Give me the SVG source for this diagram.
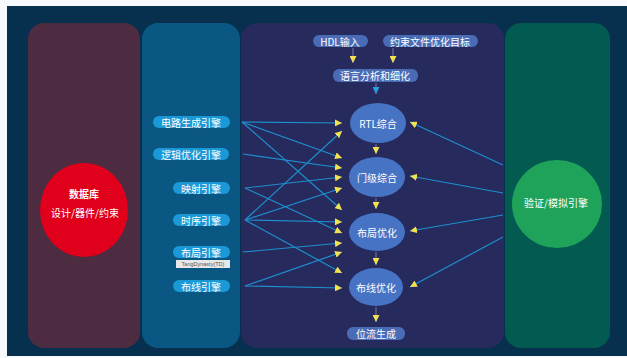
<svg xmlns="http://www.w3.org/2000/svg" width="627" height="358" viewBox="0 0 627 358">
<style>
.t{font-family:"Noto Sans CJK SC","Noto Sans",sans-serif;fill:#ffffff;text-anchor:middle;dominant-baseline:central;font-size:10px}
.eng{fill:#1b98d6}
.top{fill:#4a6cb6}
.ell{fill:#4773c4}
.ln{stroke:#1f8fcf;stroke-width:1.2;fill:none}
.dn{stroke:#8a8fb0;stroke-width:0.8;fill:none}
</style>
<defs>
<marker id="ay" viewBox="0 0 10 10" refX="10" refY="5" markerWidth="7" markerHeight="7" markerUnits="userSpaceOnUse" orient="auto"><path d="M0,0 L10,5 L0,10 z" fill="#f2e250"/></marker>
<marker id="ab" viewBox="0 0 10 10" refX="10" refY="5" markerWidth="7" markerHeight="7" markerUnits="userSpaceOnUse" orient="auto"><path d="M0,0 L10,5 L0,10 z" fill="#2a9ee0"/></marker>
</defs>
<rect x="0" y="0" width="627" height="358" fill="#f7f9fc"/>
<rect x="7" y="6" width="620" height="350" fill="#06304e"/>
<g id="col-db"><rect x="28" y="23" width="112" height="325" rx="16" fill="#4d2b40"/></g>
<g id="col-engines"><rect x="142" y="23" width="98" height="325" rx="16" fill="#0a5784"/></g>
<g id="col-flow"><rect x="241" y="23" width="263" height="325" rx="16" fill="#262a5d"/></g>
<g id="col-verify"><rect x="505" y="23" width="105" height="325" rx="16" fill="#035a50"/></g>

<g id="connectors">
<line class="ln" x1="242" y1="122" x2="342" y2="123" marker-end="url(#ay)"/>
<line class="ln" x1="242" y1="122" x2="342" y2="158" marker-end="url(#ay)"/>
<line class="ln" x1="242" y1="122" x2="342" y2="210" marker-end="url(#ay)"/>
<line class="ln" x1="243" y1="154" x2="342" y2="168" marker-end="url(#ay)"/>
<line class="ln" x1="245" y1="188" x2="342" y2="177" marker-end="url(#ay)"/>
<line class="ln" x1="245" y1="188" x2="342" y2="233" marker-end="url(#ay)"/>
<line class="ln" x1="245" y1="220" x2="342" y2="131" marker-end="url(#ay)"/>
<line class="ln" x1="245" y1="220" x2="342" y2="188" marker-end="url(#ay)"/>
<line class="ln" x1="245" y1="220" x2="342" y2="222" marker-end="url(#ay)"/>
<line class="ln" x1="245" y1="220" x2="342" y2="273" marker-end="url(#ay)"/>
<line class="ln" x1="243" y1="252" x2="342" y2="243" marker-end="url(#ay)"/>
<line class="ln" x1="245" y1="286" x2="342" y2="252" marker-end="url(#ay)"/>
<line class="ln" x1="245" y1="286" x2="342" y2="288" marker-end="url(#ay)"/>
<line class="ln" x1="503" y1="165" x2="410" y2="122" marker-end="url(#ay)"/>
<line class="ln" x1="503" y1="193" x2="410" y2="176" marker-end="url(#ay)"/>
<line class="ln" x1="503" y1="215" x2="410" y2="231" marker-end="url(#ay)"/>
<line class="ln" x1="503" y1="237" x2="410" y2="287" marker-end="url(#ay)"/>
<line class="dn" x1="353" y1="48" x2="353" y2="63" marker-end="url(#ay)"/>
<line class="dn" x1="393" y1="48" x2="393" y2="63" marker-end="url(#ay)"/>
<line class="dn" x1="376" y1="83" x2="376" y2="94" stroke="#2a9ee0" marker-end="url(#ab)"/>
<line class="dn" x1="376" y1="144" x2="376" y2="154" marker-end="url(#ay)"/>
<line class="dn" x1="376" y1="198" x2="376" y2="209" marker-end="url(#ay)"/>
<line class="dn" x1="376" y1="252" x2="376" y2="265" marker-end="url(#ay)"/>
<line class="dn" x1="376" y1="307" x2="376" y2="322" marker-end="url(#ay)"/>
</g>

<g id="db"><ellipse cx="84" cy="210" rx="44" ry="47" fill="#e0001b"/>
<text class="t" x="84" y="193" font-size="9.5" font-weight="bold">数据库</text>
<text class="t" x="85" y="212" font-size="10.5">设计/器件/约束</text></g>
<g id="verify"><ellipse cx="557" cy="204" rx="45" ry="44" fill="#1fa35a"/>
<text class="t" x="556" y="202" font-size="10.5">验证/模拟引擎</text></g>

<g id="e1"><rect class="eng" x="153" y="116" width="77" height="12" rx="6"/><text class="t" x="191" y="122">电路生成引擎</text></g>
<g id="e2"><rect class="eng" x="153" y="148" width="76" height="12" rx="6"/><text class="t" x="191" y="154">逻辑优化引擎</text></g>
<g id="e3"><rect class="eng" x="173" y="182" width="57" height="12" rx="6"/><text class="t" x="201" y="188">映射引擎</text></g>
<g id="e4"><rect class="eng" x="173" y="214" width="57" height="12" rx="6"/><text class="t" x="201" y="220">时序引擎</text></g>
<g id="e5"><rect class="eng" x="173" y="246" width="57" height="12" rx="6"/><text class="t" x="201" y="252">布局引擎</text></g>
<g id="tip"><rect x="176" y="260" width="54" height="8" fill="#e6e8ea"/><text x="203" y="264" font-size="5.5" fill="#555" text-anchor="middle" dominant-baseline="central" font-family="Liberation Sans,sans-serif">TangDynasty(TD)</text></g>
<g id="e6"><rect class="eng" x="173" y="280" width="57" height="12" rx="6"/><text class="t" x="201" y="286">布线引擎</text></g>

<g id="hdl"><rect class="top" x="313" y="35" width="55" height="12" rx="6"/><text class="t" x="340" y="41">HDL输入</text></g>
<g id="cons"><rect class="top" x="383" y="35" width="95" height="12" rx="6"/><text class="t" x="430" y="41">约束文件优化目标</text></g>
<g id="parse"><rect class="top" x="333" y="69" width="85" height="13" rx="6"/><text class="t" x="375" y="75">语言分析和细化</text></g>

<g id="rtl"><ellipse class="ell" cx="378" cy="123" rx="28" ry="20"/><text class="t" x="378" y="123">RTL综合</text></g>
<g id="gate"><ellipse class="ell" cx="377" cy="177" rx="28" ry="20"/><text class="t" x="377" y="177">门级综合</text></g>
<g id="place"><ellipse class="ell" cx="377" cy="232" rx="28" ry="19"/><text class="t" x="377" y="232">布局优化</text></g>
<g id="route"><ellipse class="ell" cx="376" cy="287" rx="27" ry="19"/><text class="t" x="376" y="287">布线优化</text></g>
<g id="bit"><rect class="top" x="347" y="327" width="58" height="13" rx="6"/><text class="t" x="376" y="333">位流生成</text></g>
</svg>
